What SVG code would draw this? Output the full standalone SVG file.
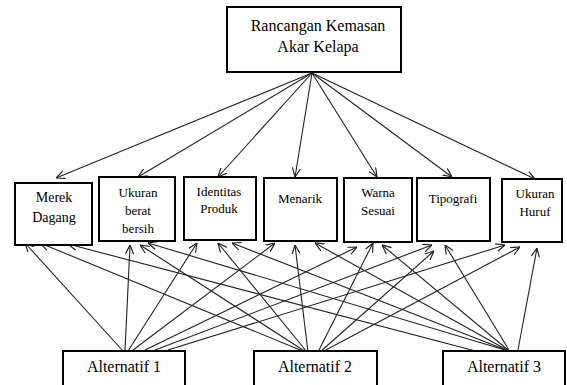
<svg xmlns="http://www.w3.org/2000/svg" width="567" height="385" viewBox="0 0 567 385">
<style>
.box{fill:#fff;stroke:#000;stroke-width:2}
.t{font-family:'Liberation Serif','Times New Roman','DejaVu Serif',serif;fill:#000;text-anchor:middle}
.e{fill:none;stroke:#222;stroke-width:1.1;marker-end:url(#ah)}
</style>
<defs>
<marker id="ah" viewBox="0 0 10 10" refX="10" refY="5" markerWidth="9" markerHeight="9" markerUnits="userSpaceOnUse" orient="auto">
<path d="M0,0.5 L10,5 L0,9.5" fill="none" stroke="#222" stroke-width="1.3"/>
</marker>
</defs>
<rect width="567" height="385" fill="#fff"/>
<g id="connectors">
<line class="e" x1="312" y1="73" x2="56" y2="178"/>
<line class="e" x1="312" y1="73" x2="138" y2="177"/>
<line class="e" x1="312" y1="73" x2="218" y2="177"/>
<line class="e" x1="312" y1="73" x2="295" y2="177"/>
<line class="e" x1="312" y1="73" x2="377" y2="177"/>
<line class="e" x1="312" y1="73" x2="452" y2="177"/>
<line class="e" x1="312" y1="73" x2="535" y2="179"/>
<line class="e" x1="123" y1="351" x2="25" y2="243"/>
<line class="e" x1="125" y1="351" x2="130" y2="245"/>
<line class="e" x1="128" y1="351" x2="197" y2="243"/>
<line class="e" x1="133" y1="350" x2="275" y2="243"/>
<line class="e" x1="145" y1="350" x2="357" y2="247"/>
<line class="e" x1="155" y1="350" x2="432" y2="245"/>
<line class="e" x1="168" y1="350" x2="505" y2="245"/>
<line class="e" x1="305" y1="352" x2="40" y2="243"/>
<line class="e" x1="306" y1="352" x2="140" y2="245"/>
<line class="e" x1="307" y1="352" x2="218" y2="243"/>
<line class="e" x1="308" y1="352" x2="295" y2="245"/>
<line class="e" x1="318" y1="352" x2="373" y2="243"/>
<line class="e" x1="320" y1="352" x2="434" y2="251"/>
<line class="e" x1="322" y1="352" x2="520" y2="247"/>
<line class="e" x1="487" y1="354" x2="68" y2="244"/>
<line class="e" x1="505" y1="350" x2="148" y2="243"/>
<line class="e" x1="506" y1="350" x2="232" y2="243"/>
<line class="e" x1="507" y1="350" x2="315" y2="243"/>
<line class="e" x1="508" y1="350" x2="382" y2="245"/>
<line class="e" x1="509" y1="350" x2="445" y2="245"/>
<line class="e" x1="518" y1="350" x2="537" y2="248"/>
</g>
<g id="goal">
<rect class="box" x="227" y="7" width="174" height="65"/>
<text class="t" x="318" y="31" font-size="16">Rancangan Kemasan</text>
<text class="t" x="318" y="52" font-size="16">Akar Kelapa</text>
</g>
<g id="merek">
<rect class="box" x="15" y="183" width="77" height="62"/>
<text class="t" x="54" y="202" font-size="14">Merek</text>
<text class="t" x="54" y="222" font-size="14">Dagang</text>
</g>
<g id="ukuran-berat">
<rect class="box" x="99" y="177" width="76" height="64"/>
<text class="t" x="138" y="197" font-size="13">Ukuran</text>
<text class="t" x="138" y="215" font-size="13">berat</text>
<text class="t" x="138" y="233" font-size="13">bersih</text>
</g>
<g id="identitas">
<rect class="box" x="184" y="177" width="72" height="63"/>
<text class="t" x="219" y="196" font-size="13">Identitas</text>
<text class="t" x="219" y="213" font-size="13">Produk</text>
</g>
<g id="menarik">
<rect class="box" x="264" y="178" width="73" height="63"/>
<text class="t" x="300" y="203" font-size="13">Menarik</text>
</g>
<g id="warna">
<rect class="box" x="344" y="178" width="68" height="64"/>
<text class="t" x="378" y="197" font-size="13">Warna</text>
<text class="t" x="378" y="215" font-size="13">Sesuai</text>
</g>
<g id="tipografi">
<rect class="box" x="417" y="178" width="73" height="63"/>
<text class="t" x="453" y="203" font-size="13">Tipografi</text>
</g>
<g id="ukuran-huruf">
<rect class="box" x="502" y="179" width="60" height="63"/>
<text class="t" x="535" y="198" font-size="13">Ukuran</text>
<text class="t" x="535" y="216" font-size="13">Huruf</text>
</g>
<g id="alt1">
<rect class="box" x="63" y="351" width="122" height="40"/>
<text class="t" x="124" y="372" font-size="16">Alternatif 1</text>
</g>
<g id="alt2">
<rect class="box" x="254" y="351" width="123" height="40"/>
<text class="t" x="315" y="372" font-size="16">Alternatif 2</text>
</g>
<g id="alt3">
<rect class="box" x="443" y="351" width="122" height="40"/>
<text class="t" x="504" y="372" font-size="16">Alternatif 3</text>
</g>
</svg>
